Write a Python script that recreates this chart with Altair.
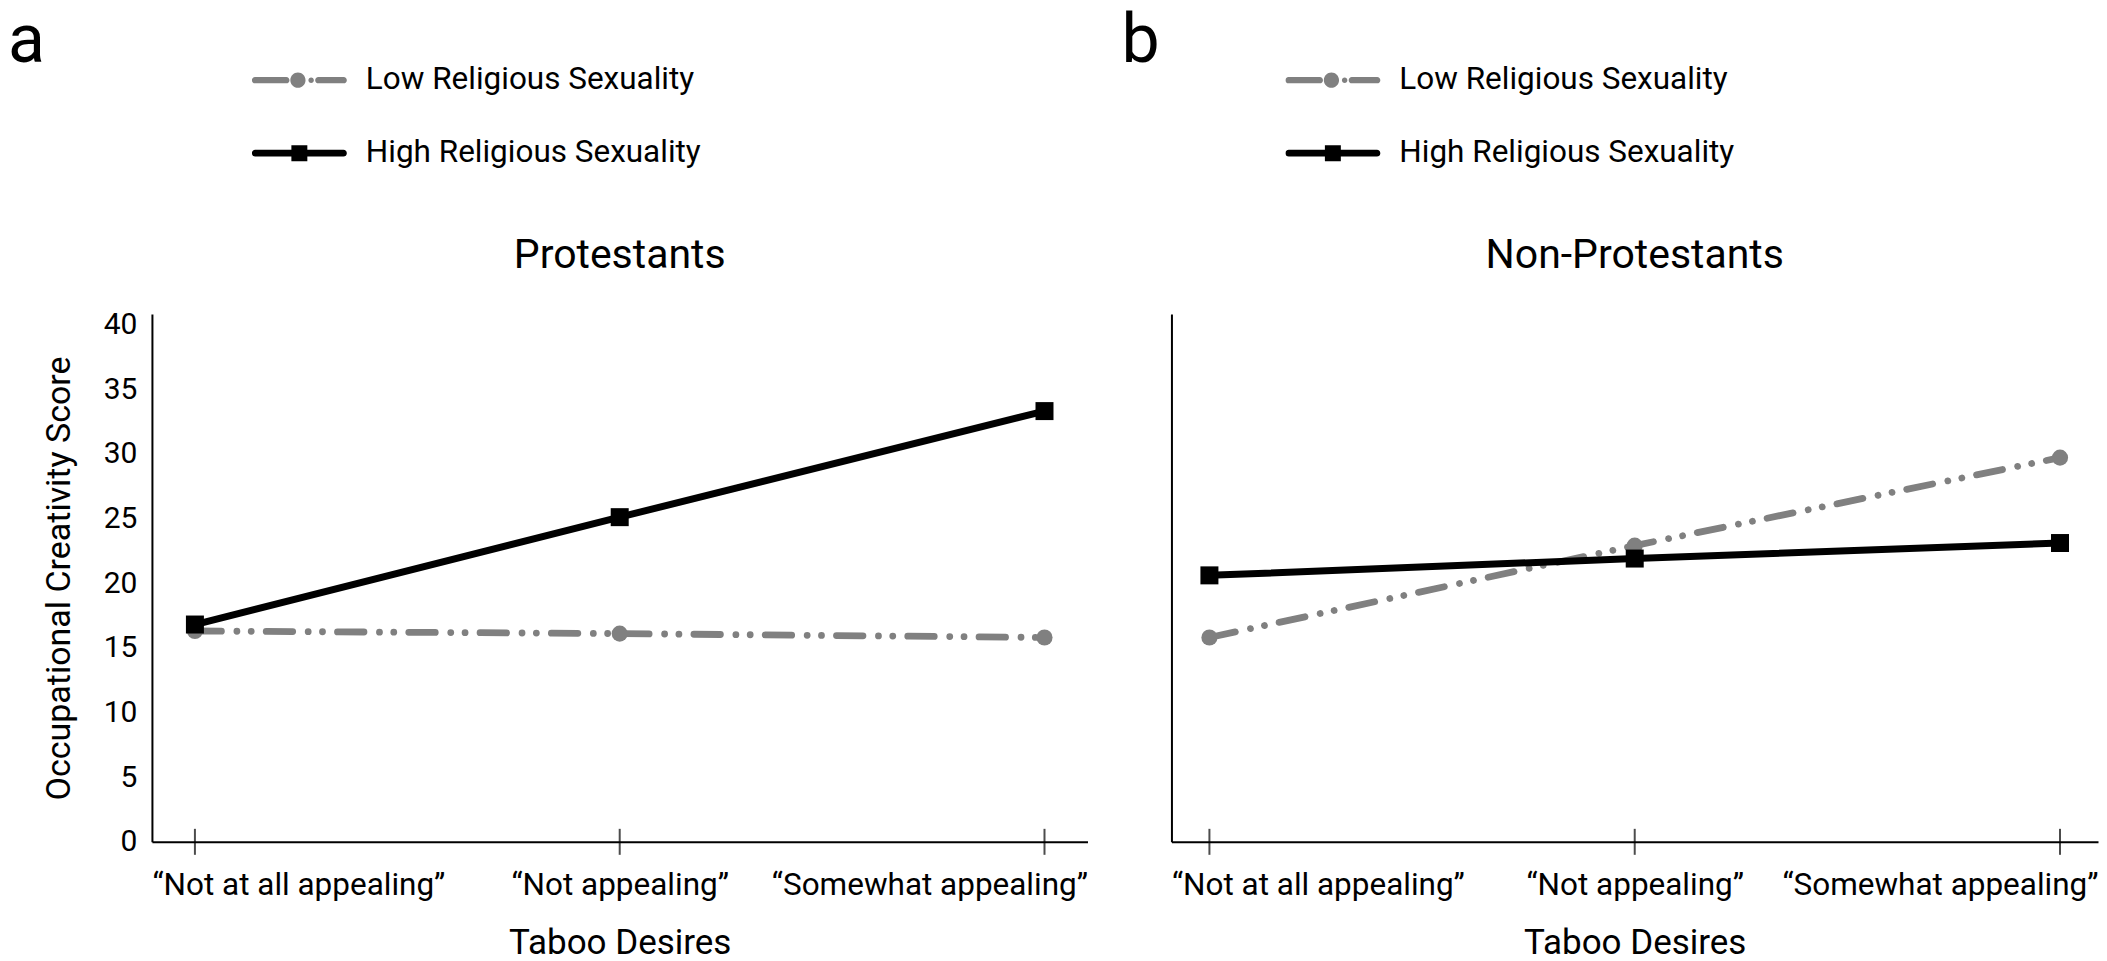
import altair as alt
import pandas as pd

# ---------------- data ----------------
cats = ["\u201cNot at all appealing\u201d", "\u201cNot appealing\u201d", "\u201cSomewhat appealing\u201d"]
series = ["Low Religious Sexuality", "High Religious Sexuality"]
prot_low = [16.3, 16.1, 15.8]
prot_high = [16.8, 25.1, 33.3]
nonprot_low = [15.8, 22.9, 29.7]
nonprot_high = [20.6, 21.9, 23.1]
panel_titles = ["Protestants", "Non-Protestants"]
panel_letters = ["a", "b"]
y_ticks = [0, 5, 10, 15, 20, 25, 30, 35, 40]
x_title = "Taboo Desires"
y_title = "Occupational Creativity Score"

FONT = "Roboto, Liberation Sans, sans-serif"
GRAY = "#808080"

# legend symbols (line with marker), unit box [-1, 1]
LOW_PATH = (
    "M -0.934 -0.066 H -0.274 A 0.066 0.066 0 0 1 -0.274 0.066 H -0.934 A 0.066 0.066 0 0 1 -0.934 -0.066 Z "
    "M -0.19 0 A 0.16 0.16 0 1 1 0.13 0 A 0.16 0.16 0 1 1 -0.19 0 Z "
    "M 0.19 0 A 0.058 0.058 0 1 1 0.306 0 A 0.058 0.058 0 1 1 0.19 0 Z "
    "M 0.399 -0.066 H 0.934 A 0.066 0.066 0 0 1 0.934 0.066 H 0.399 A 0.066 0.066 0 0 1 0.399 -0.066 Z"
)
HIGH_PATH = (
    "M -0.929 -0.071 H 0.929 A 0.071 0.071 0 0 1 0.929 0.071 H -0.929 A 0.071 0.071 0 0 1 -0.929 -0.071 Z "
    "M -0.168 -0.168 H 0.168 V 0.168 H -0.168 Z"
)

PLOT_H = 528


def make_df(low, high):
    rows = []
    for i, (c, v) in enumerate(zip(cats, low)):
        rows.append({"cat": c, "idx": i, "series": series[0], "value": v})
    for i, (c, v) in enumerate(zip(cats, high)):
        rows.append({"cat": c, "idx": i, "series": series[1], "value": v})
    return pd.DataFrame(rows)


def panel(low, high, title, letter, width, pad, flush_off, left, legend_x, letter_x):
    df = make_df(low, high)
    base = alt.Chart(df)

    x = alt.X(
        "cat:N",
        sort=cats,
        scale=alt.Scale(type="point", domain=cats, padding=pad),
        axis=alt.Axis(
            title=x_title,
            ticks=False,
            tickSize=0,
            labelPadding=28,
            labelFlush=80,
            labelFlushOffset=flush_off,
            labelAngle=0,
            labelFontSize=31.5,
            labelLimit=0,
            titleFontSize=35,
            titlePadding=24,
        ),
    )
    if left:
        yaxis = alt.Axis(
            values=y_ticks, ticks=False, tickSize=0, labelPadding=15, labelFontSize=30,
            title=y_title, titleFontSize=34, titlePadding=27,
        )
    else:
        yaxis = alt.Axis(values=y_ticks, ticks=False, tickSize=0, labels=False, title=None)
    yscale = alt.Scale(domain=[0, 40.8], nice=False, zero=True)
    y = alt.Y("value:Q", scale=yscale, axis=yaxis)

    leg = alt.Legend(
        orient="none", legendX=legend_x, legendY=-254, title=None, direction="vertical",
        symbolSize=9025, symbolStrokeWidth=0, symbolOpacity=1,
        labelFont=FONT, labelFontSize=31.5, labelColor="black", labelOffset=19, labelLimit=0,
        clipHeight=40, rowPadding=33, padding=0,
    )
    legend_layer = base.transform_filter("false").mark_point(filled=True, opacity=1).encode(
        x=x, y=y,
        color=alt.Color("series:N", scale=alt.Scale(domain=series, range=[GRAY, "black"]), legend=leg),
        shape=alt.Shape("series:N", scale=alt.Scale(domain=series, range=[LOW_PATH, HIGH_PATH]), legend=leg),
    )

    tick_df = pd.DataFrame({"cat": cats, "value": [0, 0, 0]})
    ticks = alt.Chart(tick_df).mark_tick(orient="vertical", size=26, thickness=2, color="black").encode(x=x, y=y)

    low_f = alt.datum.series == series[0]
    high_f = alt.datum.series == series[1]
    low_line = base.transform_filter(low_f).mark_line(
        color=GRAY, strokeWidth=6.8, strokeDash=[26.5, 15.5, 0.01, 14.3, 0.01, 15], strokeCap="round"
    ).encode(x=x, y=y, order="idx:Q")
    low_pts = base.transform_filter(low_f).mark_circle(color=GRAY, size=260, opacity=1).encode(x=x, y=y)
    high_line = base.transform_filter(high_f).mark_line(color="black", strokeWidth=7).encode(
        x=x, y=y, order="idx:Q"
    )
    high_pts = base.transform_filter(high_f).mark_square(color="black", size=324, opacity=1).encode(x=x, y=y)

    title_text = alt.Chart(pd.DataFrame({"t": [title]})).mark_text(
        font=FONT, fontSize=41, align="center", baseline="alphabetic", color="black"
    ).encode(text="t:N", x=alt.value(width / 2), y=alt.value(-46))
    letter_text = alt.Chart(pd.DataFrame({"t": [letter]})).mark_text(
        font=FONT, fontSize=68, align="left", baseline="alphabetic", color="black"
    ).encode(text="t:N", x=alt.value(letter_x), y=alt.value(-252))

    return alt.layer(
        legend_layer, ticks, low_line, low_pts, high_line, high_pts, title_text, letter_text
    ).properties(width=width, height=PLOT_H)


left = panel(prot_low, prot_high, panel_titles[0], panel_letters[0], 936, 0.1012, 43, True, 100, -144)
right = panel(nonprot_low, nonprot_high, panel_titles[1], panel_letters[1], 927, 0.0893, 38, False, 114, -50)

chart = (
    alt.hconcat(left, right, spacing=34)
    .resolve_scale(color="independent", shape="independent", x="independent", y="independent")
    .resolve_legend(color="independent", shape="independent")
    .configure_view(stroke=None)
    .configure_axis(
        domainColor="black", domainWidth=2, labelColor="black", titleColor="black",
        labelFont=FONT, titleFont=FONT, titleFontWeight="normal", grid=False,
    )
    .properties(padding=0)
)

chart.save("out.html", embed_options={"renderer": "svg", "actions": False})
